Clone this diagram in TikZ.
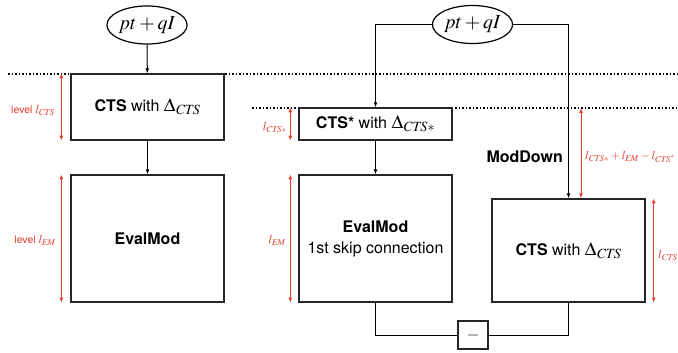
\documentclass[tikz,border=0pt]{standalone}
\usepackage{mathptmx}
\usepackage{fontspec}
\setmainfont{TeX Gyre Heros}
\usetikzlibrary{arrows.meta,shapes.geometric}
\definecolor{dimred}{RGB}{226,62,48}
\newcommand{\cdelta}[1]{{\fontsize{19}{21}\selectfont$\Delta_{#1}$}}
\tikzset{
  box/.style={draw=black!85, fill=white, line width=1.4pt, minimum width=153pt, inner sep=0pt,
    font=\fontsize{16}{21}\selectfont, align=center},
  src/.style={ellipse, draw, fill=white, line width=1.2pt, minimum width=80pt, minimum height=38pt,
    inner sep=0pt, font=\fontsize{20}{22}\selectfont},
  flow/.style={line width=1pt, -{Latex[length=5pt,width=4pt]}},
  wire/.style={line width=1pt},
  dim/.style={dimred, line width=1pt, {Latex[length=5pt,width=4pt]}-{Latex[length=5pt,width=4pt]}},
  dimlbl/.style={dimred, inner sep=0pt, font=\fontsize{10.5}{12}\selectfont},
  level/.style={dotted, line width=1.5pt}
}
\begin{document}
\begin{tikzpicture}[x=1pt,y=-1pt]
\useasboundingbox (0,0) rectangle (678,353);
% levels
\draw[level] (8,74) -- (678,74);
\draw[level] (252,108) -- (678,108);
% left: plain bootstrapping
\node[src] (inA) at (147,25) {$pt+qI$};
\node[box, minimum height=66pt] (ctsA) at (147.5,107) {\textbf{CTS} with \cdelta{\mathit{CTS}}};
\node[box, minimum height=127pt] (evalA) at (147.5,238.5) {\textbf{EvalMod}};
\draw[flow] (inA) -- (ctsA);
\draw[flow] (ctsA) -- (evalA);
\draw[dim] ([xshift=-9pt]ctsA.north west) -- ([xshift=-9pt]ctsA.south west);
\draw[dim] ([xshift=-9pt]evalA.north west) -- ([xshift=-9pt]evalA.south west);
\node[dimlbl, anchor=east] (lvlA) at (55,110) {level {\fontsize{12}{14}\selectfont$l_{\mathit{CTS}}$}};
\node[dimlbl, anchor=east] (lvlB) at (56,240) {level {\fontsize{12}{14}\selectfont$l_{\mathit{EM}}$}};
% right: with skip connection
\node[src] (inB) at (472.5,24.5) {$pt+qI$};
\node[box, minimum height=32pt] (ctsB) at (375.5,124) {\textbf{CTS*} with \cdelta{\mathit{CTS}*}};
\node[box, minimum height=127pt] (evalB) at (375.5,238.5) {\textbf{EvalMod}\\1st skip connection};
\node[box, minimum height=103pt] (ctsC) at (568.5,250.5) {\textbf{CTS} with \cdelta{\mathit{CTS}}};
\node[draw=black!85, line width=1.4pt, minimum width=30pt, minimum height=28pt, inner sep=0pt,
  font=\fontsize{16}{19}\selectfont] (minus) at (473,335) {$-$};
\draw[flow] (inB.west) -| (ctsB.north);
\draw[flow] (inB.east) -| (ctsC.north);
\draw[flow] (ctsB) -- (evalB);
\draw[wire] (evalB.south) |- (minus.west);
\draw[wire] (ctsC.south) |- (minus.east);
\node[font=\fontsize{16}{19}\selectfont\bfseries, anchor=east, inner sep=0pt] (moddown) at (563,157) {ModDown};
\coordinate (mdtop) at (581,108);
\draw[dim] (mdtop) -- (mdtop |- ctsC.north);
\draw[dim] ([xshift=-8pt]ctsB.north west) -- ([xshift=-8pt]ctsB.south west);
\draw[dim] ([xshift=-8pt]evalB.north west) -- ([xshift=-8pt]evalB.south west);
\draw[dim] ([xshift=8pt]ctsC.north east) -- ([xshift=8pt]ctsC.south east);
\tikzset{dimlbl/.append style={font=\fontsize{12}{14}\selectfont}}
\node[dimlbl, anchor=east] (lvlC) at (287,127) {$l_{\mathit{CTS}*}$};
\node[dimlbl, anchor=east] (lvlD) at (286,240) {$l_{\mathit{EM}}$};
\node[dimlbl, anchor=west] (lvlE) at (585,157) {$l_{\mathit{CTS}*}+l_{\mathit{EM}}-l_{\mathit{CTS}^{*}}$};
\node[dimlbl, anchor=west] (lvlF) at (658,255) {$l_{\mathit{CTS}}$};
\end{tikzpicture}
\end{document}
